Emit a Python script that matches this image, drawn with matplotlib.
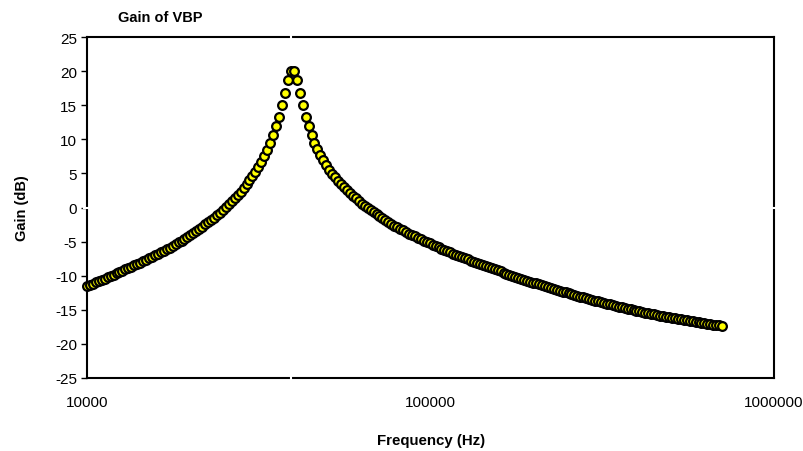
import matplotlib
matplotlib.use("Agg")
import matplotlib.pyplot as plt

# swept frequencies (Hz) and measured gain (dB) of the VBP output
freq_hz = [
    10000, 10200, 10404, 10612, 10824, 11041, 11262, 11487, 11717, 11951,
    12190, 12434, 12682, 12936, 13195, 13459, 13728, 14002, 14282, 14568,
    14859, 15157, 15460, 15769, 16084, 16406, 16734, 17069, 17410, 17758,
    18114, 18476, 18845, 19222, 19607, 19999, 20399, 20807, 21223, 21647,
    22080, 22522, 22972, 23432, 23901, 24379, 24866, 25363, 25871, 26388,
    26916, 27454, 28003, 28563, 29135, 29717, 30312, 30918, 31536, 32167,
    32810, 33467, 34136, 34819, 35515, 36225, 36950, 37689, 38442, 39211,
    39996, 40795, 41611, 42444, 43292, 44158, 45042, 45942, 46861, 47798,
    48754, 49729, 50724, 51739, 52773, 53829, 54905, 56003, 57124, 58266,
    59431, 60620, 61832, 63069, 64330, 65617, 66929, 68268, 69633, 71026,
    72446, 73895, 75373, 76881, 78418, 79987, 81586, 83218, 84883, 86580,
    88312, 90078, 91880, 93717, 95592, 97503, 99453, 101443, 103471, 105541,
    107652, 109805, 112001, 114241, 116526, 118856, 121233, 123658, 126131, 128654,
    131227, 133851, 136528, 139259, 142044, 144885, 147783, 150738, 153753, 156828,
    159965, 163164, 166427, 169756, 173151, 176614, 180146, 183749, 187424, 191173,
    194996, 198896, 202874, 206931, 211070, 215291, 219597, 223989, 228469, 233038,
    237699, 242453, 247302, 252248, 257293, 262439, 267688, 273042, 278502, 284072,
    289754, 295549, 301460, 307489, 313639, 319912, 326310, 332836, 339493, 346283,
    353208, 360273, 367478, 374828, 382324, 389971, 397770, 405725, 413840, 422117,
    430559, 439170, 447954, 456913, 466051, 475372, 484879, 494577, 504468, 514558,
    524849, 535346, 546053, 556974, 568113, 579476, 591065, 602887, 614944, 627243,
    639788, 652584, 665635, 678948, 692527, 706378,
]

gain_db = [
    -11.51, -11.34, -11.15, -10.97, -10.79, -10.61, -10.42, -10.24, -10.05, -9.86,
    -9.67, -9.48, -9.28, -9.09, -8.90, -8.69, -8.49, -8.29, -8.09, -7.88,
    -7.67, -7.46, -7.24, -7.02, -6.81, -6.58, -6.35, -6.12, -5.89, -5.65,
    -5.40, -5.13, -4.86, -4.59, -4.31, -4.02, -3.73, -3.43, -3.13, -2.82,
    -2.49, -2.16, -1.82, -1.47, -1.11, -0.74, -0.36, 0.05, 0.46, 0.89,
    1.34, 1.82, 2.31, 2.83, 3.38, 3.97, 4.59, 5.25, 5.96, 6.73,
    7.57, 8.49, 9.50, 10.63, 11.90, 13.34, 14.98, 16.80, 18.65, 20.00,
    20.00, 18.65, 16.80, 14.98, 13.34, 11.90, 10.63, 9.50, 8.52, 7.67,
    6.90, 6.19, 5.55, 4.96, 4.40, 3.88, 3.40, 2.94, 2.52, 2.11,
    1.71, 1.32, 0.95, 0.58, 0.24, -0.09, -0.41, -0.72, -1.02, -1.31,
    -1.60, -1.87, -2.13, -2.39, -2.64, -2.89, -3.13, -3.36, -3.59, -3.82,
    -4.04, -4.25, -4.46, -4.67, -4.88, -5.08, -5.27, -5.47, -5.66, -5.85,
    -6.04, -6.22, -6.40, -6.58, -6.76, -6.94, -7.11, -7.28, -7.45, -7.62,
    -7.79, -7.95, -8.12, -8.28, -8.44, -8.60, -8.76, -8.92, -9.08, -9.23,
    -9.38, -9.54, -9.69, -9.84, -9.99, -10.14, -10.28, -10.43, -10.57, -10.72,
    -10.86, -11.00, -11.14, -11.28, -11.41, -11.55, -11.68, -11.82, -11.95, -12.08,
    -12.21, -12.33, -12.46, -12.59, -12.71, -12.83, -12.95, -13.07, -13.19, -13.31,
    -13.43, -13.54, -13.66, -13.77, -13.88, -13.99, -14.10, -14.21, -14.31, -14.42,
    -14.52, -14.62, -14.73, -14.83, -14.92, -15.02, -15.12, -15.21, -15.31, -15.40,
    -15.49, -15.58, -15.67, -15.75, -15.84, -15.93, -16.01, -16.09, -16.17, -16.25,
    -16.33, -16.41, -16.48, -16.56, -16.63, -16.70, -16.77, -16.84, -16.91, -16.98,
    -17.04, -17.11, -17.17, -17.23, -17.29, -17.35,
]

x_ticks = [10000, 100000, 1000000]
x_tick_labels = ["10000", "100000", "1000000"]
y_ticks = [-25, -20, -15, -10, -5, 0, 5, 10, 15, 20, 25]
center_hz = 39300  # where the (white) value axis crosses

plt.rcParams['font.family'] = ['Liberation Sans', 'DejaVu Sans']
plt.rcParams['axes.unicode_minus'] = False

fig = plt.figure(figsize=(8.04, 4.52), dpi=100)
ax = fig.add_axes([87 / 804, 73 / 452, 687 / 804, 341 / 452])

ax.plot(freq_hz, gain_db, 'o', ms=6.3, mfc='#ffff00', mec='black', mew=1.6,
        clip_on=False, zorder=4)

# Excel-style axes drawn in white through the plot area
ax.axhline(0, xmin=-0.004, xmax=1.004, color='white', lw=1.5, clip_on=False, zorder=3)
ax.axvline(center_hz, ymin=-0.006, ymax=1.006, color='white', lw=1.5, clip_on=False, zorder=3)

ax.set_xscale('log')
ax.set_xlim(1e4, 1e6)
ax.set_ylim(-25, 25)
ax.set_xticks(x_ticks)
ax.set_xticklabels(x_tick_labels)
ax.minorticks_off()
ax.set_yticks(y_ticks)

for s in ax.spines.values():
    s.set_linewidth(1.5)
    s.set_color('black')

ax.tick_params(axis='y', direction='out', length=4, width=1, labelsize=11, pad=3)
ax.tick_params(axis='x', length=0, labelsize=11, pad=12)

fig.text(160 / 804, 1 - 18 / 452, 'Gain of VBP', fontsize=10.5, fontweight='bold',
         ha='center', va='center')
fig.text(431 / 804, 1 - 441 / 452, 'Frequency (Hz)', fontsize=10.8, fontweight='bold',
         ha='center', va='center')
fig.text(22 / 804, 1 - 208 / 452, 'Gain (dB)', fontsize=10.5, fontweight='bold',
         rotation=90, ha='center', va='center')

fig.savefig('out.png', dpi=100)
